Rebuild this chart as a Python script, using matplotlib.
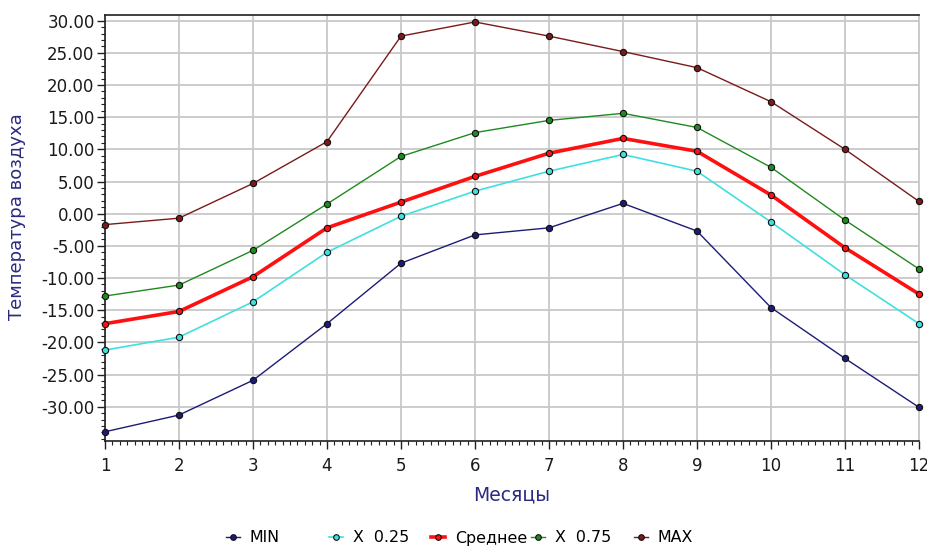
import matplotlib
matplotlib.use("Agg")
import matplotlib.pyplot as plt
from matplotlib.ticker import MultipleLocator, FormatStrFormatter

# Monthly air temperature statistics
months = list(range(1, 13))
t_min = [-33.9, -31.3, -25.9, -17.1, -7.7, -3.3, -2.2, 1.6, -2.7, -14.6, -22.5, -30.1]
t_q25 = [-21.2, -19.2, -13.7, -6.0, -0.4, 3.5, 6.6, 9.2, 6.6, -1.3, -9.5, -17.1]
t_mean = [-17.1, -15.2, -9.8, -2.2, 1.8, 5.8, 9.4, 11.7, 9.7, 2.9, -5.3, -12.5]
t_q75 = [-12.8, -11.1, -5.7, 1.5, 8.9, 12.6, 14.5, 15.6, 13.4, 7.2, -1.0, -8.6]
t_max = [-1.7, -0.7, 4.7, 11.2, 27.6, 29.8, 27.6, 25.2, 22.7, 17.4, 10.0, 1.9]

labels = ["MIN", "X  0.25", "Среднее", "X  0.75", "MAX"]
series = [t_min, t_q25, t_mean, t_q75, t_max]
colors = ["#1c1c78", "#3fe0e0", "#ff1010", "#1f8a1f", "#7a1a1a"]
widths = [1.0, 1.2, 2.6, 1.0, 1.0]

plt.rcParams["font.family"] = ["DejaVu Sans"]

W, H = 927, 547
fig = plt.figure(figsize=(W / 100, H / 100), dpi=100)
ax = fig.add_axes([105 / W, 1 - 440.7 / H, (919 - 105) / W, (440.7 - 14.7) / H])

handles = []
for vals, lab, col, lw in zip(series, labels, colors, widths):
    (ln,) = ax.plot(months, vals, color=col, lw=lw, marker="o", markersize=4.5,
                    markerfacecolor=col, markeredgecolor="#101010",
                    markeredgewidth=0.8, label=lab, zorder=3, clip_on=False)
    handles.append(ln)

ax.set_xlim(1, 12)
ax.set_ylim(-35.29, 30.93)
ax.xaxis.set_major_locator(MultipleLocator(1))
ax.xaxis.set_minor_locator(MultipleLocator(0.1))
ax.yaxis.set_minor_locator(MultipleLocator(1))
ax.set_yticks(list(range(-30, 31, 5)))
ax.yaxis.set_major_formatter(FormatStrFormatter("%.2f"))

ax.grid(True, which="major", color="#c8c8c8", lw=1.3, zorder=0)
ax.set_axisbelow(True)

ax.tick_params(axis="both", which="major", direction="out", length=6,
               width=1, color="#202020", labelsize=12, labelcolor="#1a1a1a")
ax.tick_params(axis="both", which="minor", direction="out", length=3,
               width=0.8, color="#202020")
ax.tick_params(axis="y", which="major", pad=1.5)
ax.tick_params(axis="x", which="major", pad=6)

for side in ("left", "bottom", "top"):
    ax.spines[side].set_color("#202020")
    ax.spines[side].set_linewidth(1.2)
ax.spines["right"].set_color("#c8c8c8")
ax.spines["right"].set_linewidth(1.3)

ax.set_xlabel("Месяцы", fontsize=13.5, color="#2a2a80", labelpad=7)
ax.set_ylabel("Температура воздуха", fontsize=13, color="#2a2a80")
ax.yaxis.set_label_coords(-0.097, 0.527)

# One legend entry per column, fixed column spacing along the bottom
leg_x = [226, 329, 431, 531, 634]
for h, x in zip(handles, leg_x):
    fig.legend(handles=[h], loc="center left", bbox_to_anchor=(x / W, 1 - 538 / H),
               frameon=False, handlelength=0.9, handletextpad=0.6,
               borderpad=0, borderaxespad=0, fontsize=11.4, markerscale=0.9)

fig.savefig("out.png", dpi=100)
